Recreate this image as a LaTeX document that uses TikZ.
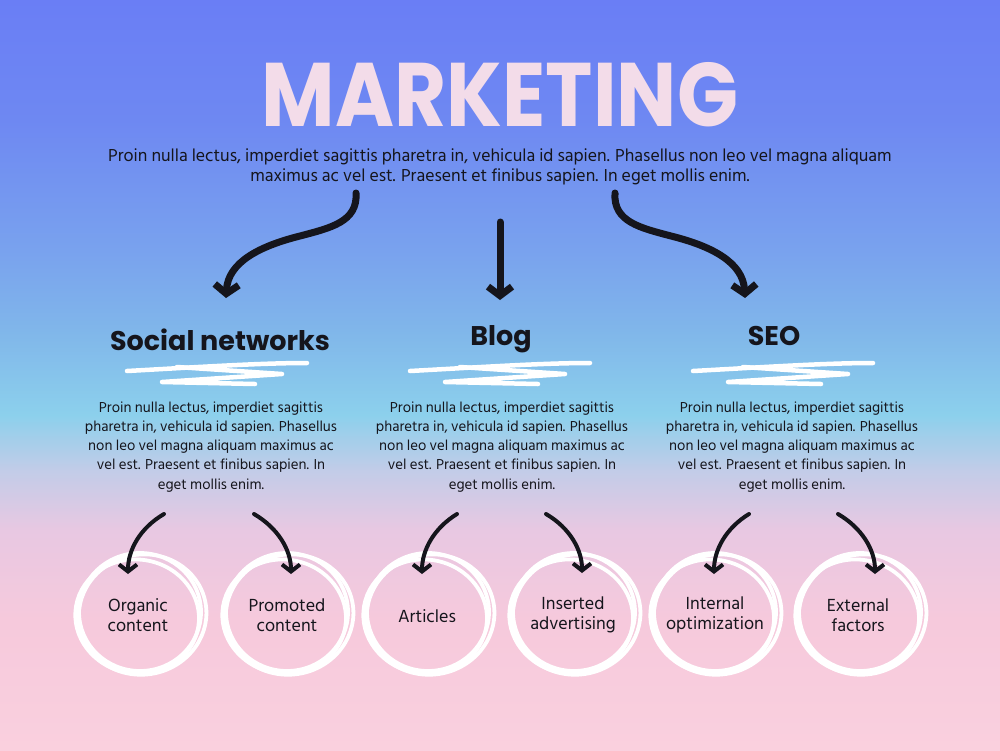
\documentclass[tikz,border=0pt]{standalone}
\usepackage{fontspec}
\usetikzlibrary{arrows.meta}
\newfontfamily\popfont{Poppins}
\newfontfamily\hindfont{Hind Siliguri}
\definecolor{titlec}{HTML}{F3DCE9}
\definecolor{inkc}{HTML}{15151C}
\definecolor{gA}{HTML}{FAD0DE}
\definecolor{gB}{HTML}{F6C9DC}
\definecolor{gC}{HTML}{E8C8E2}
\definecolor{gD}{HTML}{C2CCE8}
\definecolor{gE}{HTML}{8CD0EC}
\definecolor{gF}{HTML}{80B6EA}
\definecolor{gG}{HTML}{79A2EE}
\definecolor{gH}{HTML}{6E88F2}
\definecolor{gI}{HTML}{6A7EF5}
\pgfdeclareverticalshading{bgshade}{100bp}{color(0bp)=(gA); color(25bp)=(gA); color(33.67bp)=(gB); color(39.67bp)=(gC); color(43.67bp)=(gD); color(47.33bp)=(gE); color(53bp)=(gF); color(58.33bp)=(gG); color(67bp)=(gH); color(75bp)=(gI); color(100bp)=(gI)}
\tikzset{
  headtext/.style={font=\popfont\bfseries\fontsize{27}{30}\selectfont, text=inkc, anchor=base, inner sep=0pt},
  bodytext/.style={font=\hindfont\fontsize{14.8}{19.2}\selectfont, text=inkc, align=center, anchor=north, inner sep=0pt},
  circtext/.style={font=\hindfont\fontsize{18}{20.5}\selectfont, text=inkc, align=center, inner sep=0pt},
  scrib/.style={white, line width=4.5pt, line cap=round, line join=round},
  ring/.style={white, line width=3.8pt},
  bigarrow/.style={inkc, line width=7pt, line cap=round, line join=round, -{Straight Barb[length=9pt, width=24pt]}},
  smallarrow/.style={inkc, line width=4pt, line cap=round, line join=round, -{Straight Barb[length=7pt, width=18pt]}}
}
\newcommand{\scribring}[3]{%
  \draw[ring] (#2,#3) ellipse [x radius=61pt, y radius=59pt];
  \draw[ring, rotate around={12:(#2,#3)}] (#2+2,#3+3) ellipse [x radius=64pt, y radius=60pt];
  \draw[ring, rotate around={-10:(#2,#3)}] (#2-2,#3+5) ellipse [x radius=62pt, y radius=57pt];
}
\begin{document}
\begin{tikzpicture}[x=1pt, y=-1pt]
\useasboundingbox (0,0) rectangle (1000,750);
\shade[shading=bgshade] (0,0) rectangle (1000,750);

% title
\node[inner sep=0pt, text=titlec] (title) at (500,94.5) {\resizebox{476pt}{64pt}{\popfont\bfseries MARKETING}};
\node[bodytext, font=\hindfont\fontsize{17.8}{20}\selectfont] (intro) at (500,149) {Proin nulla lectus, imperdiet sagittis pharetra in, vehicula id sapien. Phasellus non leo vel magna aliquam\\ maximus ac vel est. Praesent et finibus sapien. In eget mollis enim.};

% headings
\node[headtext] (h1) at (220,350) {Social networks};
\node[headtext] (h2) at (501,345) {Blog};
\node[headtext] (h3) at (774,345) {SEO};

% scribble underlines
\foreach \dx in {0,283,566}{
  \begin{scope}[xshift=\dx pt]
    \draw[scrib] (127,371) .. controls (200,367) and (260,363) .. (307,363);
    \draw[scrib] (177,367) -- (282,374) -- (162,382) -- (255,384);
  \end{scope}
}

% body paragraphs
\foreach \nm/\cx in {b1/211, b2/502, b3/792}{
  \node[bodytext] (\nm) at (\cx,401.5) {Proin nulla lectus, imperdiet sagittis\\ pharetra in, vehicula id sapien. Phasellus\\ non leo vel magna aliquam maximus ac\\ vel est. Praesent et finibus sapien. In\\ eget mollis enim.};
}

% big arrows
\coordinate (s1) at (356,193);
\coordinate (e1) at (226,298);
\coordinate (s2) at (500,222);
\coordinate (e2) at (500,300);
\coordinate (s3) at (615,193);
\coordinate (e3) at (745,298);
\draw[bigarrow] (s1) .. controls (358,222) and (330,228) .. (300,236) .. controls (260,246) and (228,262) .. (e1);
\draw[bigarrow] (s2) -- (e2);
\draw[bigarrow] (s3) .. controls (613,222) and (641,228) .. (671,236) .. controls (711,246) and (743,262) .. (e3);

% rings
\scribring{r1}{140}{612}
\scribring{r2}{287}{612}
\scribring{r3}{428}{612}
\scribring{r4}{574}{612}
\scribring{r5}{715}{612}
\scribring{r6}{860}{612}

\node[circtext] (c1) at (138,615) {Organic\\ content};
\node[circtext] (c2) at (287,615) {Promoted\\ content};
\node[circtext] (c3) at (427,616) {Articles};
\node[circtext] (c4) at (573,615) {Inserted\\ advertising};
\node[circtext] (c5) at (715,615) {Internal\\ optimization};
\node[circtext] (c6) at (858,615) {External\\ factors};

% small arrows
\coordinate (t1) at (128,574);
\coordinate (t2) at (291,574);
\coordinate (t3) at (422,574);
\coordinate (t4) at (582,573);
\coordinate (t5) at (714,574);
\coordinate (t6) at (875,574);
\draw[smallarrow] (164,514) .. controls (140,528) and (128,550) .. (t1);
\draw[smallarrow] (254,514) .. controls (278,528) and (291,550) .. (t2);
\draw[smallarrow] (457,514) .. controls (434,528) and (422,550) .. (t3);
\draw[smallarrow] (546,514) .. controls (570,528) and (582,550) .. (t4);
\draw[smallarrow] (749,514) .. controls (726,528) and (714,550) .. (t5);
\draw[smallarrow] (838,514) .. controls (862,528) and (875,550) .. (t6);
\end{tikzpicture}
\end{document}
